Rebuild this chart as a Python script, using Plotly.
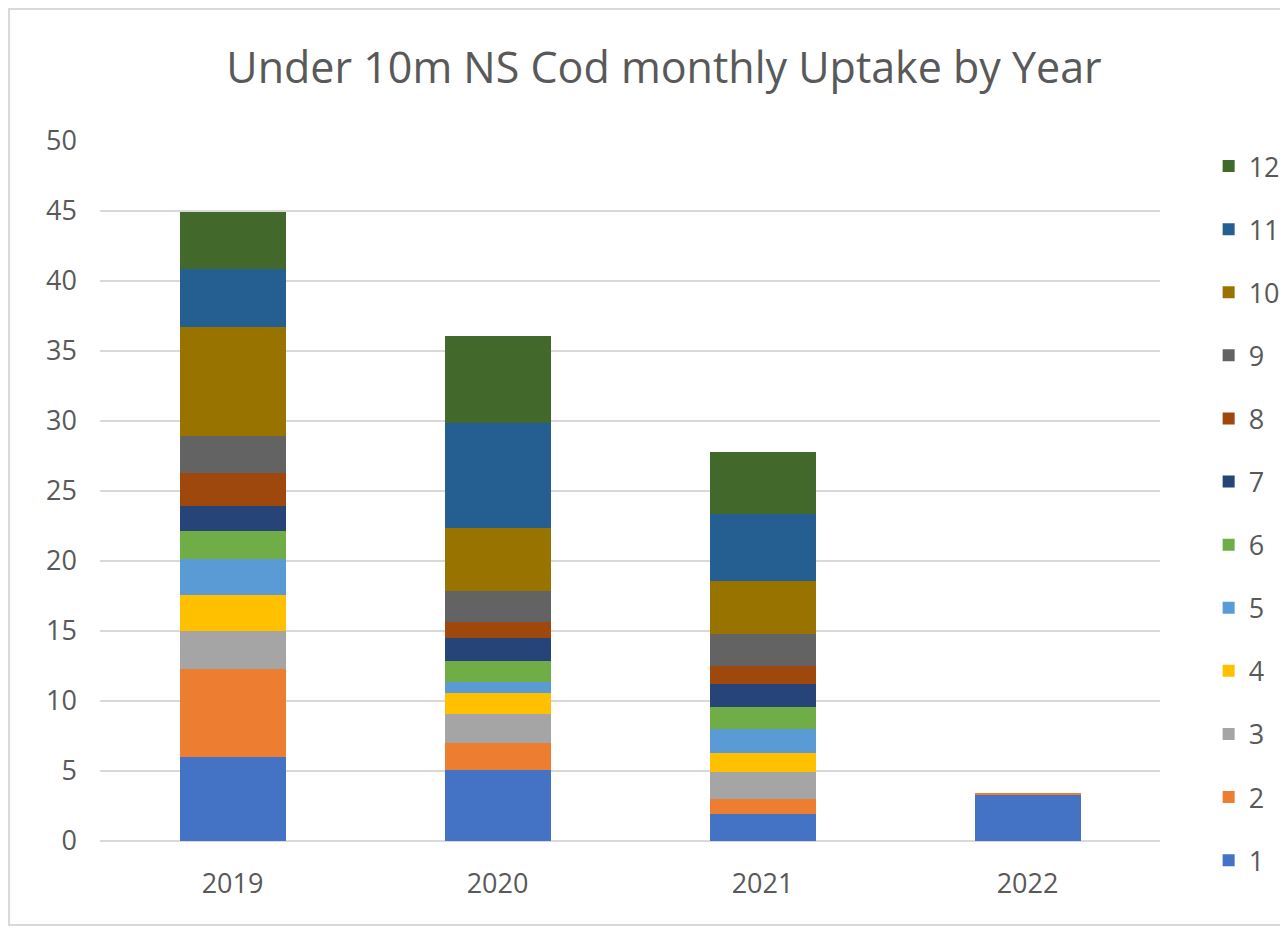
import plotly.graph_objects as go

years = ["2019", "2020", "2021", "2022"]
months = ["1", "2", "3", "4", "5", "6", "7", "8", "9", "10", "11", "12"]

# uptake per month (rows) for each year (columns)
m1 = [5.97, 5.06, 1.94, 3.30]
m2 = [6.35, 1.93, 1.06, 0.15]
m3 = [2.69, 2.05, 1.92, 0]
m4 = [2.57, 1.56, 1.39, 0]
m5 = [2.54, 0.73, 1.68, 0]
m6 = [2.04, 1.52, 1.55, 0]
m7 = [1.80, 1.68, 1.68, 0]
m8 = [2.30, 1.14, 1.27, 0]
m9 = [2.66, 2.17, 2.33, 0]
m10 = [7.80, 4.50, 3.72, 0]
m11 = [4.11, 7.55, 4.79, 0]
m12 = [4.07, 6.21, 4.49, 0]
series = [m1, m2, m3, m4, m5, m6, m7, m8, m9, m10, m11, m12]

colors = ["#4472C4", "#ED7D31", "#A5A5A5", "#FFC000", "#5B9BD5", "#70AD47",
          "#264478", "#9E480E", "#636363", "#997300", "#255E91", "#43682B"]

fig = go.Figure()
for i, (name, vals, col) in enumerate(zip(months, series, colors)):
    fig.add_trace(go.Bar(
        x=years, y=vals, name=name, legendgroup=name,
        legendrank=100 - i,  # month 12 on top like excel
        marker=dict(color=col, line=dict(width=0)),
    ))

fig.update_layout(
    barmode="stack",
    bargap=0.6,
    width=1280, height=921,
    paper_bgcolor="white", plot_bgcolor="white",
    font=dict(family="Segoe UI, Open Sans, sans-serif", color="#595959", size=27),
    title=dict(text="Under 10m NS Cod monthly Uptake by Year",
               x=0.5125, xanchor="center", y=0.935, yanchor="middle",
               font=dict(size=43, color="#595959")),
    margin=dict(l=92, r=128, t=133, b=88, autoexpand=False),
    legend=dict(xref="container", x=0.938, xanchor="left",
                yref="container", y=0.8545, yanchor="top",
                traceorder="grouped", tracegroupgap=25, maxheight=900,
                font=dict(size=27, color="#595959")),
    xaxis=dict(showgrid=False, ticks="", ticklabelstandoff=24, tickfont=dict(size=27)),
    yaxis=dict(range=[0, 50], dtick=5, gridcolor="#d9d9d9", gridwidth=2,
               zeroline=True, zerolinecolor="#d9d9d9", zerolinewidth=2,
               ticks="", ticklabelstandoff=22, tickfont=dict(size=27)),
    shapes=[dict(type="rect", xref="paper", yref="paper",
                 x0=-0.0858, x1=1.117, y0=-0.12, y1=1.1886,
                 line=dict(color="#d9d9d9", width=2))],
)

fig.write_html("out.html")
